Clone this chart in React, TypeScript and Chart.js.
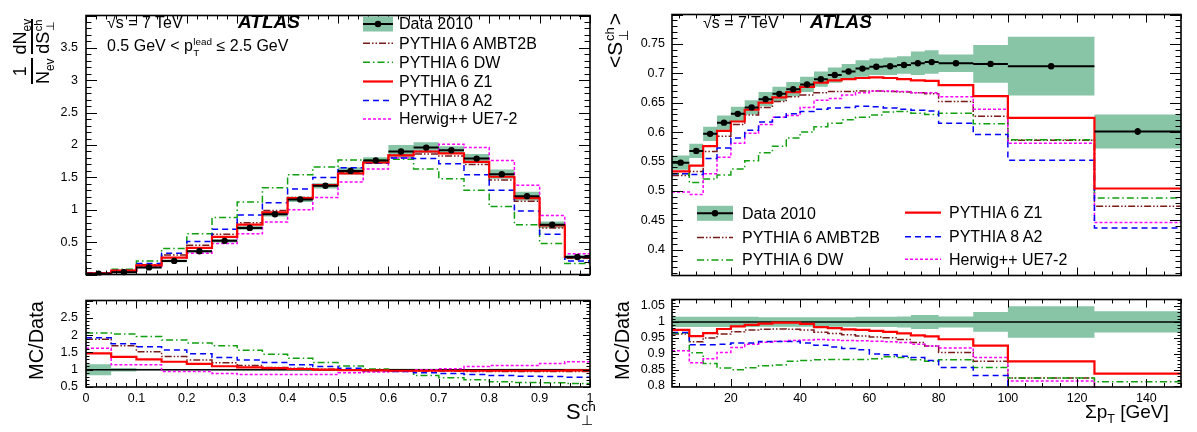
import React, { useEffect, useRef } from 'react';
import { Chart, registerables } from 'chart.js';

Chart.register(...registerables);
Chart.defaults.font.family = '"Liberation Sans", Arial, Helvetica, sans-serif';
Chart.defaults.font.size = 12.5;
Chart.defaults.color = '#000';

// ===================== LEFT: S_perp^ch distribution =====================
const sEdges = [0, 0.05, 0.1, 0.15, 0.2, 0.25, 0.3, 0.35, 0.4, 0.45, 0.5, 0.55, 0.6, 0.65, 0.7, 0.75, 0.8, 0.85, 0.9, 0.95, 1.0];
const sData = [0.012, 0.035, 0.11, 0.21, 0.36, 0.52, 0.72, 0.93, 1.16, 1.37, 1.6, 1.76, 1.9, 1.96, 1.92, 1.79, 1.55, 1.21, 0.77, 0.27];
const sDataErr = [0.005, 0.01, 0.015, 0.02, 0.02, 0.025, 0.03, 0.035, 0.04, 0.04, 0.055, 0.05, 0.1, 0.083, 0.06, 0.07, 0.07, 0.067, 0.05, 0.035];
const sAMBT2B = [0.022, 0.05, 0.15, 0.3, 0.45, 0.62, 0.8, 0.99, 1.19, 1.38, 1.58, 1.73, 1.84, 1.86, 1.83, 1.7, 1.46, 1.13, 0.72, 0.25];
const sDW = [0.025, 0.08, 0.21, 0.4, 0.63, 0.88, 1.12, 1.34, 1.54, 1.66, 1.77, 1.77, 1.78, 1.63, 1.48, 1.3, 1.05, 0.77, 0.48, 0.17];
const sZ1 = [0.018, 0.06, 0.14, 0.26, 0.41, 0.58, 0.77, 0.96, 1.18, 1.38, 1.56, 1.73, 1.84, 1.9, 1.87, 1.74, 1.51, 1.18, 0.76, 0.27];
const sA2 = [0.023, 0.06, 0.17, 0.33, 0.51, 0.7, 0.92, 1.11, 1.32, 1.5, 1.65, 1.72, 1.8, 1.79, 1.71, 1.54, 1.3, 0.98, 0.62, 0.21];
const sHerwig = [0.019, 0.04, 0.125, 0.21, 0.33, 0.48, 0.63, 0.81, 1.0, 1.19, 1.43, 1.63, 1.8, 1.9, 2.01, 1.96, 1.76, 1.38, 0.91, 0.32];

const sRatioBandErr = [0.16, 0.05, 0.025, 0.02, 0.02, 0.02, 0.02, 0.02, 0.02, 0.02, 0.02, 0.02, 0.025, 0.025, 0.02, 0.02, 0.025, 0.025, 0.03, 0.03];
const sRatioAMBT2B = [1.88, 1.69, 1.52, 1.38, 1.28, 1.2, 1.12, 1.06, 1.04, 1.01, 0.99, 0.98, 0.96, 0.96, 0.96, 0.95, 0.95, 0.95, 0.95, 0.95];
const sRatioDW = [2.06, 2.03, 1.96, 1.86, 1.77, 1.69, 1.56, 1.45, 1.33, 1.21, 1.11, 1.02, 0.97, 0.83, 0.77, 0.71, 0.65, 0.63, 0.62, 0.6];
const sRatioZ1 = [1.47, 1.37, 1.3, 1.23, 1.17, 1.1, 1.07, 1.045, 1.02, 1.0, 0.99, 0.98, 0.97, 0.97, 0.97, 0.97, 0.97, 0.97, 0.97, 0.98];
const sRatioA2 = [1.92, 1.75, 1.66, 1.57, 1.46, 1.35, 1.28, 1.21, 1.14, 1.09, 1.04, 0.97, 0.95, 0.91, 0.89, 0.86, 0.83, 0.81, 0.8, 0.78];
const sRatioHerwig = [1.62, 1.14, 1.14, 0.95, 0.95, 0.89, 0.86, 0.86, 0.86, 0.86, 0.91, 0.93, 0.95, 1.0, 1.03, 1.09, 1.12, 1.12, 1.18, 1.23];

const sXTicks = [0, 0.1, 0.2, 0.3, 0.4, 0.5, 0.6, 0.7, 0.8, 0.9, 1];
const sMainYTicks = [0.5, 1, 1.5, 2, 2.5, 3, 3.5];
const sRatioYTicks = [0.5, 1, 1.5, 2, 2.5];

// ===================== RIGHT: <S_perp^ch> vs sum pT =====================
const ptEdges = [3, 8, 12, 16, 20, 24, 28, 32, 36, 40, 44, 48, 52, 56, 60, 64, 68, 72, 76, 80, 90, 100, 125, 150];
const ptData = [0.548, 0.568, 0.597, 0.616, 0.631, 0.642, 0.656, 0.665, 0.673, 0.681, 0.69, 0.697, 0.703, 0.708, 0.711, 0.712, 0.714, 0.717, 0.719, 0.717, 0.716, 0.712, 0.601];
const ptDataErr = [0.012, 0.012, 0.012, 0.012, 0.012, 0.012, 0.012, 0.012, 0.012, 0.013, 0.013, 0.013, 0.013, 0.014, 0.014, 0.015, 0.015, 0.02, 0.02, 0.015, 0.032, 0.05, 0.029];
const ptStatErr = [0, 0, 0, 0, 0, 0, 0, 0, 0, 0, 0, 0, 0, 0, 0, 0, 0, 0, 0, 0, 0, 0.003, 0.006];
const ptAMBT2B = [0.526, 0.533, 0.567, 0.593, 0.613, 0.629, 0.642, 0.652, 0.66, 0.663, 0.667, 0.669, 0.669, 0.67, 0.67, 0.669, 0.668, 0.667, 0.665, 0.652, 0.627, 0.586, 0.474];
const ptDW = [0.529, 0.514, 0.52, 0.527, 0.537, 0.551, 0.565, 0.576, 0.59, 0.6, 0.609, 0.615, 0.621, 0.625, 0.629, 0.634, 0.635, 0.632, 0.63, 0.632, 0.614, 0.587, 0.488];
const ptZ1 = [0.533, 0.543, 0.576, 0.602, 0.618, 0.638, 0.65, 0.659, 0.668, 0.677, 0.684, 0.688, 0.69, 0.692, 0.693, 0.692, 0.69, 0.688, 0.687, 0.68, 0.661, 0.624, 0.504];
const ptA2 = [0.529, 0.528, 0.555, 0.573, 0.59, 0.603, 0.617, 0.625, 0.631, 0.635, 0.639, 0.641, 0.642, 0.644, 0.643, 0.641, 0.639, 0.637, 0.636, 0.615, 0.596, 0.552, 0.437];
const ptHerwig = [0.498, 0.494, 0.529, 0.557, 0.581, 0.598, 0.613, 0.625, 0.628, 0.642, 0.654, 0.657, 0.663, 0.667, 0.67, 0.67, 0.669, 0.667, 0.667, 0.66, 0.639, 0.581, 0.446];

const ptRatioBandErr = [0.016, 0.016, 0.016, 0.016, 0.016, 0.016, 0.015, 0.015, 0.015, 0.015, 0.015, 0.015, 0.015, 0.016, 0.016, 0.016, 0.017, 0.022, 0.022, 0.017, 0.031, 0.049, 0.033];
const ptRatioAMBT2B = [0.962, 0.938, 0.95, 0.962, 0.969, 0.975, 0.977, 0.978, 0.977, 0.975, 0.968, 0.964, 0.96, 0.956, 0.953, 0.951, 0.945, 0.936, 0.925, 0.905, 0.877, 0.825, 0.789];
const ptRatioDW = [0.965, 0.904, 0.87, 0.856, 0.851, 0.857, 0.863, 0.866, 0.877, 0.88, 0.882, 0.883, 0.883, 0.883, 0.885, 0.891, 0.889, 0.882, 0.877, 0.882, 0.858, 0.825, 0.813];
const ptRatioZ1 = [0.975, 0.956, 0.965, 0.978, 0.986, 0.991, 0.995, 0.998, 0.998, 0.994, 0.984, 0.981, 0.977, 0.975, 0.972, 0.969, 0.964, 0.958, 0.955, 0.946, 0.926, 0.877, 0.839];
const ptRatioA2 = [0.967, 0.929, 0.929, 0.93, 0.934, 0.934, 0.939, 0.939, 0.939, 0.934, 0.927, 0.922, 0.917, 0.913, 0.9, 0.898, 0.893, 0.889, 0.88, 0.858, 0.833, 0.775, 0.727];
const ptRatioHerwig = [0.91, 0.873, 0.885, 0.905, 0.92, 0.93, 0.937, 0.94, 0.942, 0.944, 0.945, 0.944, 0.942, 0.941, 0.94, 0.938, 0.936, 0.93, 0.925, 0.919, 0.889, 0.816, 0.742];

const ptXTicks = [20, 40, 60, 80, 100, 120, 140];
const ptMainYTicks = [0.4, 0.45, 0.5, 0.55, 0.6, 0.65, 0.7, 0.75];
const ptRatioYTicks = [0.8, 0.85, 0.9, 0.95, 1, 1.05];

const seriesNames = ['Data 2010', 'PYTHIA 6 AMBT2B', 'PYTHIA 6 DW', 'PYTHIA 6 Z1', 'PYTHIA 8 A2', 'Herwig++ UE7-2'];

// ===================== styles =====================
type Sty = { color: string; width: number; dash: number[]; order: number };
const STY: Record<string, Sty> = {
  AMBT2B: { color: '#7a1b1b', width: 1.5, dash: [7, 2, 1.5, 2, 1.5, 2], order: 6 },
  DW: { color: '#10a010', width: 1.5, dash: [7, 3, 1.5, 3], order: 5 },
  Z1: { color: '#ff0000', width: 2.2, dash: [], order: 2 },
  A2: { color: '#0000ff', width: 1.5, dash: [6, 4], order: 3 },
  Herwig: { color: '#ff00ff', width: 1.5, dash: [3, 2], order: 4 },
};
const BAND = '#88c4a6';

// ===================== helpers =====================
function histPoints(edges: number[], vals: number[]) {
  const pts = vals.map((v, i) => ({ x: edges[i], y: v }));
  pts.push({ x: edges[edges.length - 1], y: vals[vals.length - 1] });
  return pts;
}
function binBars(edges: number[], vals: number[]) {
  const pts: any[] = [];
  vals.forEach((v, i) => {
    pts.push({ x: edges[i], y: v }, { x: edges[i + 1], y: v }, { x: edges[i + 1], y: null });
  });
  return pts;
}
function vertBars(edges: number[], vals: number[], errs: number[]) {
  const pts: any[] = [];
  vals.forEach((v, i) => {
    if (!errs[i]) return;
    const c = (edges[i] + edges[i + 1]) / 2;
    pts.push({ x: c, y: v - errs[i] }, { x: c, y: v + errs[i] }, { x: c, y: null });
  });
  return pts;
}
const fmt = (v: number) => String(+Number(v).toFixed(3));

type Panel = {
  edges: number[]; xMin: number; xMax: number; yMin: number; yMax: number;
  xTicks: number[]; yTicks: number[]; xLabels: boolean;
  xMajor: number; xMinor: number; yMajor: number; yMinor: number;
  bandLo: number[]; bandHi: number[];
  points?: { vals: number[]; stat: number[] };
  unity: boolean;
  mc: { vals: number[]; style: Sty }[];
  yAxisWidth: number; xAxisHeight: number; padTop: number; padRight: number;
  xLen: number; yLen: number; yPad: number;
};

function frameFor(p: Panel) {
  return {
    id: 'rootFrame',
    afterDraw(chart: any) {
      const { ctx, chartArea: a, scales } = chart;
      const xs = scales.x, ys = scales.y;
      ctx.save();
      ctx.strokeStyle = '#000';
      ctx.lineWidth = 1;
      const seg = (x1: number, y1: number, x2: number, y2: number) => {
        ctx.beginPath(); ctx.moveTo(x1, y1); ctx.lineTo(x2, y2); ctx.stroke();
      };
      const steps = (min: number, max: number, step: number) => {
        const out: number[] = [];
        const n0 = Math.ceil(min / step - 1e-6), n1 = Math.floor(max / step + 1e-6);
        for (let n = n0; n <= n1; n++) out.push(n * step);
        return out;
      };
      const isMajor = (v: number, step: number) => Math.abs(v / step - Math.round(v / step)) < 1e-6;
      for (const v of steps(p.xMin, p.xMax, p.xMinor)) {
        const len = isMajor(v, p.xMajor) ? p.xLen : p.xLen / 2;
        const px = Math.round(xs.getPixelForValue(v)) + 0.5;
        seg(px, a.bottom, px, a.bottom - len);
        seg(px, a.top, px, a.top + len);
      }
      for (const v of steps(p.yMin, p.yMax, p.yMinor)) {
        const len = isMajor(v, p.yMajor) ? p.yLen : p.yLen / 2;
        const py = Math.round(ys.getPixelForValue(v)) + 0.5;
        seg(a.left, py, a.left + len, py);
        seg(a.right, py, a.right - len, py);
      }
      ctx.lineWidth = 1.6;
      ctx.strokeRect(a.left, a.top, a.right - a.left, a.bottom - a.top);
      ctx.restore();
    },
  };
}

function makeChart(canvas: HTMLCanvasElement, p: Panel) {
  const ds: any[] = [];
  const base = { pointRadius: 0, tension: 0, clip: 1, spanGaps: false };
  ds.push({ ...base, data: histPoints(p.edges, p.bandHi), stepped: true, borderWidth: 0, borderColor: 'rgba(0,0,0,0)', backgroundColor: BAND, fill: '+1', order: 9 });
  ds.push({ ...base, data: histPoints(p.edges, p.bandLo), stepped: true, borderWidth: 0, borderColor: 'rgba(0,0,0,0)', fill: false, order: 10 });
  if (p.unity) {
    ds.push({ ...base, data: [{ x: p.xMin, y: 1 }, { x: p.xMax, y: 1 }], borderColor: '#000', borderWidth: 1.5, fill: false, order: 8 });
  }
  p.mc.forEach((m) => {
    ds.push({ ...base, data: histPoints(p.edges, m.vals), stepped: true, borderColor: m.style.color, borderWidth: m.style.width, borderDash: m.style.dash, fill: false, order: m.style.order });
  });
  if (p.points) {
    ds.push({ ...base, data: binBars(p.edges, p.points.vals), borderColor: '#000', borderWidth: 2, fill: false, order: 1 });
    ds.push({ ...base, data: vertBars(p.edges, p.points.vals, p.points.stat), borderColor: '#000', borderWidth: 2, fill: false, order: 1 });
    ds.push({
      ...base,
      data: p.points.vals.map((v, i) => ({ x: (p.edges[i] + p.edges[i + 1]) / 2, y: v })),
      showLine: false, pointRadius: 3.2, pointBackgroundColor: '#000', pointBorderColor: '#000', pointBorderWidth: 0, order: 0,
    });
  }
  return new Chart(canvas, {
    type: 'line',
    data: { datasets: ds },
    options: {
      animation: false,
      responsive: false,
      maintainAspectRatio: false,
      events: [],
      layout: { padding: { top: p.padTop, right: p.padRight, left: 0, bottom: 0 } },
      plugins: { legend: { display: false }, tooltip: { enabled: false } },
      scales: {
        x: {
          type: 'linear', min: p.xMin, max: p.xMax,
          grid: { display: false, drawTicks: false }, border: { display: false },
          ticks: { display: p.xLabels, autoSkip: false, maxRotation: 0, padding: 4, color: '#000', callback: (v: any) => fmt(v) },
          afterBuildTicks: (s: any) => { s.ticks = p.xTicks.map((v) => ({ value: v })); },
          afterFit: (s: any) => { s.height = p.xAxisHeight; },
        },
        y: {
          type: 'linear', min: p.yMin, max: p.yMax,
          grid: { display: false, drawTicks: false }, border: { display: false },
          ticks: { autoSkip: false, padding: p.yPad, color: '#000', callback: (v: any) => fmt(v) },
          afterBuildTicks: (s: any) => { s.ticks = p.yTicks.map((v) => ({ value: v })); },
          afterFit: (s: any) => { s.width = p.yAxisWidth; },
        },
      } as any,
    },
    plugins: [frameFor(p) as any],
  });
}

// ===================== panel specs =====================
const LEFT_MAIN: Panel = {
  edges: sEdges, xMin: 0, xMax: 1, yMin: 0, yMax: 4,
  xTicks: sXTicks, yTicks: sMainYTicks, xLabels: false,
  xMajor: 0.1, xMinor: 0.02, yMajor: 0.5, yMinor: 0.1,
  bandLo: sData.map((v, i) => v - sDataErr[i]), bandHi: sData.map((v, i) => v + sDataErr[i]),
  points: { vals: sData, stat: sData.map(() => 0) }, unity: false,
  mc: [
    { vals: sAMBT2B, style: STY.AMBT2B }, { vals: sDW, style: STY.DW }, { vals: sZ1, style: STY.Z1 },
    { vals: sA2, style: STY.A2 }, { vals: sHerwig, style: STY.Herwig },
  ],
  yAxisWidth: 86, xAxisHeight: 7, padTop: 3, padRight: 10, xLen: 8, yLen: 11, yPad: 8,
};
const LEFT_RATIO: Panel = {
  edges: sEdges, xMin: 0, xMax: 1, yMin: 0.5, yMax: 3.0,
  xTicks: sXTicks, yTicks: sRatioYTicks, xLabels: true,
  xMajor: 0.1, xMinor: 0.02, yMajor: 0.5, yMinor: 0.1,
  bandLo: sRatioBandErr.map((e) => 1 - e), bandHi: sRatioBandErr.map((e) => 1 + e),
  unity: true,
  mc: [
    { vals: sRatioAMBT2B, style: STY.AMBT2B }, { vals: sRatioDW, style: STY.DW }, { vals: sRatioZ1, style: STY.Z1 },
    { vals: sRatioA2, style: STY.A2 }, { vals: sRatioHerwig, style: STY.Herwig },
  ],
  yAxisWidth: 86, xAxisHeight: 45, padTop: 9, padRight: 10, xLen: 8, yLen: 7, yPad: 8,
};
const RIGHT_MAIN: Panel = {
  edges: ptEdges, xMin: 3, xMax: 150, yMin: 0.356, yMax: 0.8,
  xTicks: ptXTicks, yTicks: ptMainYTicks, xLabels: false,
  xMajor: 20, xMinor: 5, yMajor: 0.05, yMinor: 0.01,
  bandLo: ptData.map((v, i) => v - ptDataErr[i]), bandHi: ptData.map((v, i) => v + ptDataErr[i]),
  points: { vals: ptData, stat: ptStatErr }, unity: false,
  mc: [
    { vals: ptAMBT2B, style: STY.AMBT2B }, { vals: ptDW, style: STY.DW }, { vals: ptZ1, style: STY.Z1 },
    { vals: ptA2, style: STY.A2 }, { vals: ptHerwig, style: STY.Herwig },
  ],
  yAxisWidth: 72, xAxisHeight: 7, padTop: 3, padRight: 16, xLen: 8, yLen: 11, yPad: 7,
};
const RIGHT_RATIO: Panel = {
  edges: ptEdges, xMin: 3, xMax: 150, yMin: 0.797, yMax: 1.07,
  xTicks: ptXTicks, yTicks: ptRatioYTicks, xLabels: true,
  xMajor: 20, xMinor: 5, yMajor: 0.05, yMinor: 0.01,
  bandLo: ptRatioBandErr.map((e) => 1 - e), bandHi: ptRatioBandErr.map((e) => 1 + e),
  unity: true,
  mc: [
    { vals: ptRatioAMBT2B, style: STY.AMBT2B }, { vals: ptRatioDW, style: STY.DW }, { vals: ptRatioZ1, style: STY.Z1 },
    { vals: ptRatioA2, style: STY.A2 }, { vals: ptRatioHerwig, style: STY.Herwig },
  ],
  yAxisWidth: 72, xAxisHeight: 45, padTop: 8, padRight: 16, xLen: 8, yLen: 7, yPad: 7,
};

// ===================== text helpers =====================
const Sub = ({ children }: any) => <span style={{ fontSize: '0.66em', verticalAlign: '-0.4em' }}>{children}</span>;
const Stack = ({ sup, sub }: any) => (
  <span style={{ display: 'inline-block', fontSize: '0.62em', lineHeight: 1.05, verticalAlign: '-0.45em', textAlign: 'left', marginLeft: '0.05em' }}>
    <span style={{ display: 'block' }}>{sup}</span>
    <span style={{ display: 'block' }}>{sub}</span>
  </span>
);
const Frac = ({ num, den }: any) => (
  <span style={{ display: 'inline-flex', flexDirection: 'column', alignItems: 'stretch', textAlign: 'center' }}>
    <span style={{ height: 22, lineHeight: '23px', borderBottom: '2px solid #000', whiteSpace: 'nowrap' }}>{num}</span>
    <span style={{ height: 24, lineHeight: '21px', whiteSpace: 'nowrap' }}>{den}</span>
  </span>
);
const Root = ({ children }: any) => (
  <span>√<span style={{ display: 'inline-block', borderTop: '1px solid #000', lineHeight: 0.85 }}>{children}</span></span>
);
const abs = (left: number, top: number, extra: any = {}) => ({ position: 'absolute' as const, left, top, lineHeight: 1, whiteSpace: 'nowrap' as const, ...extra });
const rot = (left: number, top: number, extra: any = {}) => abs(left, top, { transform: 'rotate(-90deg)', transformOrigin: 'left top', ...extra });

const mcKeys = ['AMBT2B', 'DW', 'Z1', 'A2', 'Herwig'];

function Swatch({ x, y, w, k }: { x: number; y: number; w: number; k: string }) {
  if (k === 'data') {
    return (
      <g>
        <rect x={x} y={y - 7.5} width={w} height={15} fill={BAND} />
        <line x1={x} y1={y} x2={x + w} y2={y} stroke="#000" strokeWidth={2} />
        <circle cx={x + w / 2} cy={y} r={3.2} fill="#000" />
      </g>
    );
  }
  const s = STY[k];
  return <line x1={x} y1={y} x2={x + w} y2={y} stroke={s.color} strokeWidth={s.width} strokeDasharray={s.dash.join(' ')} />;
}

const leftLegendRows = [24, 43.3, 62.3, 81.5, 100.5, 119];
const rightLegend = [
  { key: 'data', name: 0, sx: 697, tx: 742, y: 213.3 },
  { key: 'AMBT2B', name: 1, sx: 697, tx: 742, y: 237.5 },
  { key: 'DW', name: 2, sx: 697, tx: 742, y: 260 },
  { key: 'Z1', name: 3, sx: 905, tx: 949, y: 212.7 },
  { key: 'A2', name: 4, sx: 905, tx: 949, y: 236.7 },
  { key: 'Herwig', name: 5, sx: 905, tx: 949, y: 259.3 },
];

export default function App() {
  const r1 = useRef<HTMLCanvasElement>(null);
  const r2 = useRef<HTMLCanvasElement>(null);
  const r3 = useRef<HTMLCanvasElement>(null);
  const r4 = useRef<HTMLCanvasElement>(null);
  useEffect(() => {
    const charts = [
      makeChart(r1.current!, LEFT_MAIN),
      makeChart(r2.current!, LEFT_RATIO),
      makeChart(r3.current!, RIGHT_MAIN),
      makeChart(r4.current!, RIGHT_RATIO),
    ];
    return () => charts.forEach((c) => c.destroy());
  }, []);

  const cv = (left: number, top: number, w: number, h: number) => ({ position: 'absolute' as const, left, top, width: w, height: h });

  return (
    <div style={{ position: 'absolute', left: 0, top: 0, width: 1197, height: 432, background: '#fff', overflow: 'hidden', color: '#000', fontFamily: '"Liberation Sans", Arial, Helvetica, sans-serif' }}>
      <canvas ref={r1} width={600} height={290} style={cv(0, 0, 600, 290)} />
      <canvas ref={r2} width={600} height={147} style={cv(0, 285, 600, 147)} />
      <canvas ref={r3} width={597} height={290} style={cv(600, 0, 597, 290)} />
      <canvas ref={r4} width={597} height={147} style={cv(600, 285, 597, 147)} />

      <svg width={1197} height={432} style={{ position: 'absolute', left: 0, top: 0, pointerEvents: 'none' }}>
        <Swatch x={363} y={leftLegendRows[0]} w={30} k="data" />
        {mcKeys.map((k, i) => <Swatch key={k} x={363} y={leftLegendRows[i + 1]} w={30} k={k} />)}
        {rightLegend.map((r) => <Swatch key={r.key} x={r.sx} y={r.y} w={36} k={r.key} />)}
      </svg>

      {/* left panel texts */}
      <div style={abs(107, 14.8, { fontSize: 16 })}><Root>s</Root> = 7 TeV</div>
      <div style={abs(238, 12.4, { fontSize: 19, fontWeight: 'bold', fontStyle: 'italic' })}>ATLAS</div>
      <div style={abs(107, 37.2, { fontSize: 16 })}>0.5 GeV &lt; p<Stack sup="lead" sub="T" /> ≤ 2.5 GeV</div>
      {seriesNames.map((n, i) => (
        <div key={n} style={abs(399, leftLegendRows[i] - 7.8, { fontSize: 16 })}>{n}</div>
      ))}
      <div style={rot(9, 84, { fontSize: 18, display: 'flex', alignItems: 'flex-start', gap: 4 })}>
        <Frac num={<span>1</span>} den={<span>N<Sub>ev</Sub></span>} />
        <Frac num={<span>dN<Sub>ev</Sub></span>} den={<span>dS<Stack sup="ch" sub="⊥" /></span>} />
      </div>
      <div style={rot(25.5, 380, { fontSize: 20 })}>MC/Data</div>
      <div style={abs(566, 400, { fontSize: 22 })}>S<Stack sup="ch" sub="⊥" /></div>

      {/* right panel texts */}
      <div style={abs(703, 14.5, { fontSize: 16 })}><Root>s</Root> = 7 TeV</div>
      <div style={abs(810, 12, { fontSize: 19, fontWeight: 'bold', fontStyle: 'italic' })}>ATLAS</div>
      {rightLegend.map((r) => (
        <div key={r.key} style={abs(r.tx, r.y - 7.8, { fontSize: 16 })}>{seriesNames[r.name]}</div>
      ))}
      <div style={rot(603, 68, { fontSize: 21 })}>&lt;S<Stack sup="ch" sub="⊥" /><span style={{ marginLeft: 2 }}>&gt;</span></div>
      <div style={rot(612, 380, { fontSize: 20 })}>MC/Data</div>
      <div style={abs(1085, 402, { fontSize: 19 })}>Σp<Sub>T</Sub> [GeV]</div>
    </div>
  );
}
